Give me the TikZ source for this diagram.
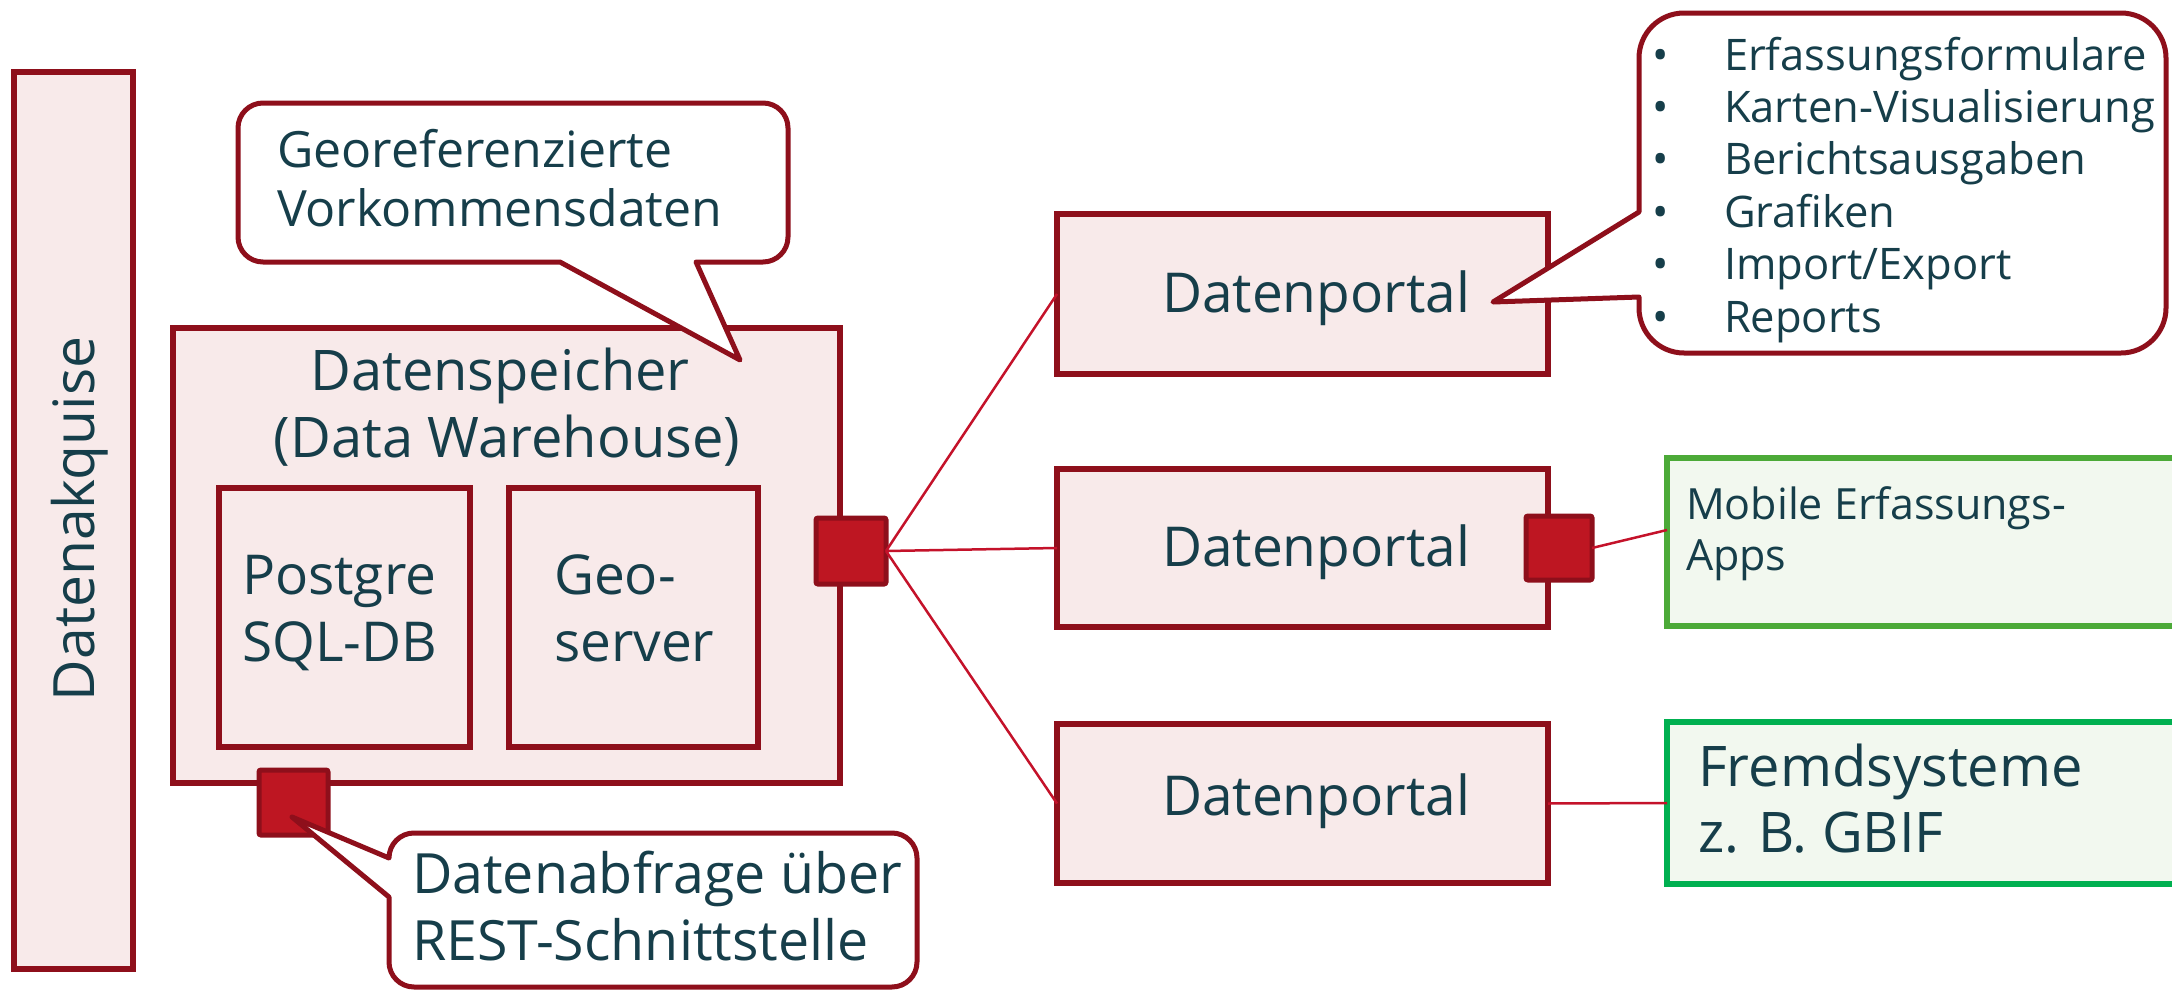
\documentclass[tikz,border=0pt]{standalone}
\usepackage{fontspec}
\setmainfont{Open Sans}
\definecolor{dred}{RGB}{142,15,27}
\definecolor{pinkfill}{RGB}{248,234,234}
\definecolor{portfill}{RGB}{190,22,34}
\definecolor{linered}{RGB}{196,18,42}
\definecolor{txt}{RGB}{22,62,74}
\definecolor{greenA}{RGB}{76,170,56}
\definecolor{greenB}{RGB}{0,176,80}
\definecolor{greenfill}{RGB}{242,248,239}
\newcommand\fsz[2]{\fontsize{#1pt}{#2pt}\selectfont}
\begin{document}
\begin{tikzpicture}[x=1pt,y=-1pt,
  box/.style={draw=dred, fill=pinkfill, line width=5.5pt, inner sep=0pt, outer sep=0pt},
  gbox/.style={fill=greenfill, line width=5.5pt, inner sep=0pt, outer sep=0pt},
  port/.style={draw=dred, fill=portfill, line width=5pt, rounded corners=2pt, inner sep=0pt, outer sep=0pt},
  conn/.style={draw=linered, line width=2.5pt},
  callout/.style={draw=dred, fill=white, line width=5pt, line join=round},
  lbl/.style={text=txt, inner sep=0pt, outer sep=0pt}
]
\useasboundingbox (0,0) rectangle (2172,993);

% Datenakquise
\node[box, minimum width=119pt, minimum height=897pt] (akq) at (73.5,520.5) {};
\node[lbl, rotate=90, anchor=base, font=\fsz{57}{67}] (akqt) at (94,519) {Datenakquise};

% Datenspeicher
\node[box, minimum width=667pt, minimum height=455pt] (ds) at (506.5,555.5) {};
\node[lbl, anchor=base, font=\fsz{56}{67}] (dst1) at (500,390) {Datenspeicher};
\node[lbl, anchor=base, font=\fsz{56}{67}] (dst2) at (507,457) {(Data Warehouse)};

\node[box, minimum width=251pt, minimum height=259pt] (pg) at (344.5,617.5) {};
\node[lbl, anchor=base west, font=\fsz{55}{67}] (pgt1) at (242,594) {Postgre};
\node[lbl, anchor=base west, font=\fsz{55}{67}] (pgt2) at (242,661) {SQL-DB};

\node[box, minimum width=249pt, minimum height=259pt] (geo) at (633.5,617.5) {};
\node[lbl, anchor=base west, font=\fsz{55}{67}] (geot1) at (554,594) {Geo-};
\node[lbl, anchor=base west, font=\fsz{55}{67}] (geot2) at (554,661) {server};

\node[port, minimum width=70pt, minimum height=66pt] (portR) at (851,551) {};
\node[port, minimum width=69pt, minimum height=65pt] (portB) at (293.5,802.5) {};

% Datenportale
\node[box, minimum width=491pt, minimum height=160pt] (dp1) at (1302.5,294) {};
\node[box, minimum width=491pt, minimum height=158pt] (dp2) at (1302.5,548) {};
\node[box, minimum width=491pt, minimum height=159pt] (dp3) at (1302.5,803.5) {};
\node[lbl, anchor=base, font=\fsz{55}{67}] (dp1t) at (1316,312) {Datenportal};
\node[lbl, anchor=base, font=\fsz{55}{67}] (dp2t) at (1316,566) {Datenportal};
\node[lbl, anchor=base, font=\fsz{55}{67}] (dp3t) at (1316,815) {Datenportal};

\node[port, minimum width=66pt, minimum height=64pt] (portM) at (1559,548) {};

% green boxes
\node[gbox, draw=greenA, minimum width=533pt, minimum height=168pt] (mob) at (1933.5,542) {};
\node[lbl, anchor=base west, font=\fsz{43}{51}] (mobt1) at (1686,519) {Mobile Erfassungs-};
\node[lbl, anchor=base west, font=\fsz{43}{51}] (mobt2) at (1686,570) {Apps};

\node[gbox, draw=greenB, minimum width=533pt, minimum height=162pt] (fremd) at (1933.5,803) {};
\node[lbl, anchor=base west, font=\fsz{56}{66}] (fremdt1) at (1698,786) {Fremdsysteme};
\node[lbl, anchor=base west, font=\fsz{56}{66}] (fremdt2) at (1698,852) {z. B. GBIF};

% connectors
\draw[conn] (portR.east) -- (dp1.west);
\draw[conn] (portR.east) -- (dp2.west);
\draw[conn] (portR.east) -- (dp3.west);
\draw[conn] (portM.east) -- ([yshift=12pt]mob.west);
\draw[conn] (dp3.east) -- (fremd.west);

% callout: Georeferenzierte Vorkommensdaten
\coordinate (geotip) at (740,360);
\draw[callout] (263,103) -- (763,103) .. controls (776.8,103) and (788,114.2) .. (788,128)
  -- (788,237) .. controls (788,250.8) and (776.8,262) .. (763,262)
  -- (696,262) -- (geotip) -- (560,262)
  -- (263,262) .. controls (249.2,262) and (238,250.8) .. (238,237)
  -- (238,128) .. controls (238,114.2) and (249.2,103) .. (263,103) -- cycle;
\node[lbl, anchor=base west, font=\fsz{50}{59}] (gct1) at (277,167) {Georeferenzierte};
\node[lbl, anchor=base west, font=\fsz{50}{59}] (gct2) at (277,226) {Vorkommensdaten};

% callout: Datenabfrage
\coordinate (restip) at (292,817);
\draw[callout] (414,833) -- (892,833) .. controls (905.8,833) and (917,844.2) .. (917,858)
  -- (917,962) .. controls (917,975.8) and (905.8,987) .. (892,987)
  -- (414,987) .. controls (400.2,987) and (389,975.8) .. (389,962)
  -- (389,897) -- (restip) -- (389,858)
  .. controls (389,844.2) and (400.2,833) .. (414,833) -- cycle;
\node[lbl, anchor=base west, font=\fsz{55.5}{67}] (rest1) at (412,893) {Datenabfrage über};
\node[lbl, anchor=base west, font=\fsz{55.5}{67}] (rest2) at (412,960) {REST-Schnittstelle};

% callout: list
\coordinate (listtip) at (1493,302);
\draw[callout] (1684,13) -- (2121,13) .. controls (2145.8,13) and (2166,33.2) .. (2166,58)
  -- (2166,308) .. controls (2166,332.8) and (2145.8,353) .. (2121,353)
  -- (1684,353) .. controls (1659.2,353) and (1639,332.8) .. (1639,308)
  -- (1639,297) -- (listtip) -- (1639,212)
  -- (1639,58) .. controls (1639,33.2) and (1659.2,13) .. (1684,13) -- cycle;
\foreach \t [count=\i from 0] in {Erfassungsformulare,Karten-Visualisierung,Berichtsausgaben,Grafiken,Import/Export,Reports}{
  \node[lbl, anchor=base, font=\fsz{43.5}{52}] (lb\i) at (1661,70+52.4*\i) {•};
  \node[lbl, anchor=base west, font=\fsz{43.5}{52}] (li\i) at (1724,70+52.4*\i) {\t};
}
\end{tikzpicture}
\end{document}
